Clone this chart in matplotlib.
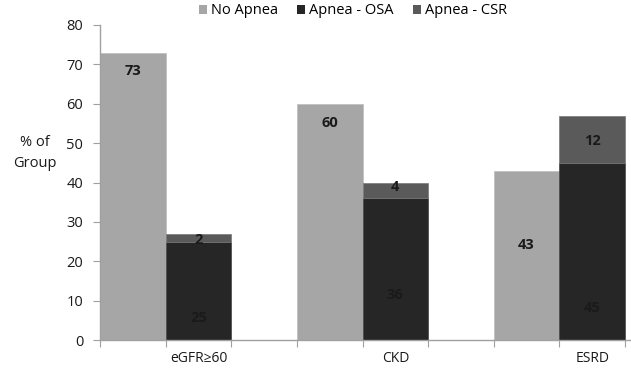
import matplotlib
matplotlib.use("Agg")
import matplotlib.pyplot as plt
from matplotlib.patches import Patch

categories = ["eGFR\u226560", "CKD", "ESRD"]
no_apnea = [73, 60, 43]
apnea_osa = [25, 36, 45]
apnea_csr = [2, 4, 12]
series_names = ["No Apnea", "Apnea - OSA", "Apnea - CSR"]
yticks = [0, 10, 20, 30, 40, 50, 60, 70, 80]

# label vertical positions (data units) as placed in the original
lbl_no = [68.2, 55.0, 24.2]
lbl_osa = [5.6, 11.5, 8.1]
lbl_csr = [25.4, 38.9, 50.6]

c_no = "#a6a6a6"
c_osa = "#262626"
c_csr = "#5a5a5a"

plt.rcParams['font.family'] = ['Open Sans', 'DejaVu Sans']

fig = plt.figure(figsize=(6.31, 3.69), dpi=100)
ax = fig.add_axes([100/631, 1-340/369, 531/631, 315/369])

w = 1/3
xs = list(range(len(categories)))
x_no = [i for i in xs]
x_osa = [i + w for i in xs]
ax.bar(x_no, no_apnea, width=w, align='edge', color=c_no, edgecolor='#bdbdbd', linewidth=0.5)
ax.bar(x_osa, apnea_osa, width=w, align='edge', color=c_osa, edgecolor='#444444', linewidth=0.5)
ax.bar(x_osa, apnea_csr, width=w, bottom=apnea_osa, align='edge', color=c_csr, edgecolor='#777777', linewidth=0.5)

lab_kw = dict(ha='center', va='center', fontsize=10.5, fontweight='bold', color='#1a1a1a')
for i in xs:
    ax.text(i + w/2, lbl_no[i], str(no_apnea[i]), **lab_kw)
    ax.text(i + 1.5*w, lbl_osa[i], str(apnea_osa[i]), **lab_kw)
    ax.text(i + 1.5*w, lbl_csr[i], str(apnea_csr[i]), **lab_kw)

ax.set_ylim(0, 80)
ax.set_xlim(0, 531/196.9)
ax.set_yticks(yticks)
ax.set_yticklabels([str(v) for v in yticks], fontsize=10.5, color='#1a1a1a')
ax.set_xticks([k * w for k in range(9)])
ax.set_xticklabels([])
ax.set_xticks([i + 0.5 for i in xs], minor=True)
ax.set_xticklabels(categories, minor=True, fontsize=10, color='#1a1a1a')
ax.tick_params(axis='x', which='minor', length=0, pad=8)
ax.tick_params(axis='x', which='major', length=5, color='#a0a0a0', direction='out')
ax.tick_params(axis='y', length=5, color='#a0a0a0', pad=7)
for s in ['top', 'right']:
    ax.spines[s].set_visible(False)
for s in ['left', 'bottom']:
    ax.spines[s].set_color('#a0a0a0')
    ax.spines[s].set_linewidth(1)

fig.text(35/631, 1-153/369, "% of\nGroup", ha='center', va='center', fontsize=10.5,
         color='#1a1a1a', linespacing=1.6)

handles = [Patch(facecolor=c, edgecolor='none') for c in (c_no, c_osa, c_csr)]
fig.legend(handles, series_names, loc='center', bbox_to_anchor=(353/631, 1-11/369),
           ncol=3, frameon=False, fontsize=10.5, handlelength=0.55, handleheight=0.55,
           handletextpad=0.3, columnspacing=1.3, borderpad=0)

fig.savefig("out.png", dpi=100)
